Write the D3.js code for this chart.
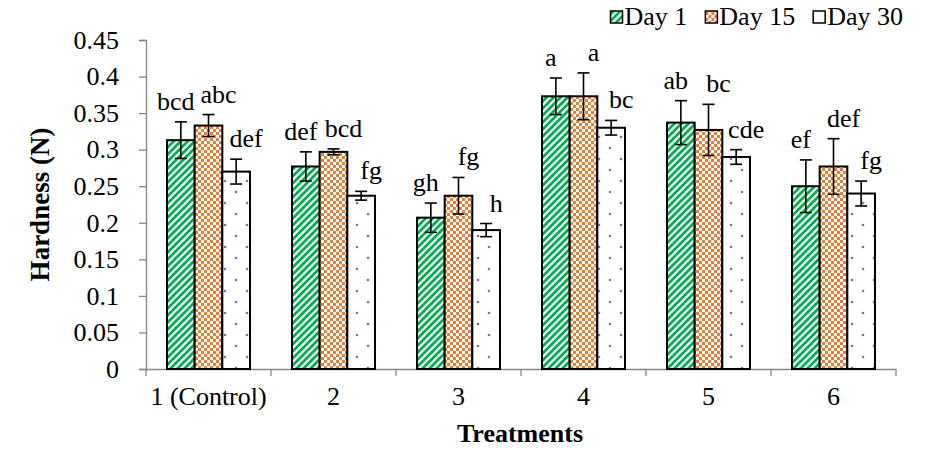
<!DOCTYPE html>
<html>
<head>
<meta charset="utf-8">
<script src="https://cdn.jsdelivr.net/npm/d3@7"></script>
<style>
  html, body { margin: 0; padding: 0; background: #fff; }
  svg { display: block; font-family: "Liberation Serif", "Times New Roman", serif; }
</style>
</head>
<body>
<svg id="chart" width="929" height="449"></svg>
<script>
// Chart values
const categories = ["1 (Control)", "2", "3", "4", "5", "6"];
const series = ["Day 1", "Day 15", "Day 30"];
const day1 = [0.313, 0.277, 0.207, 0.373, 0.337, 0.250];
const day15 = [0.333, 0.297, 0.237, 0.373, 0.327, 0.277];
const day30 = [0.270, 0.237, 0.190, 0.330, 0.290, 0.240];
const err1 = [0.025, 0.020, 0.020, 0.025, 0.030, 0.036];
const err15 = [0.015, 0.004, 0.025, 0.032, 0.035, 0.038];
const err30 = [0.017, 0.006, 0.009, 0.010, 0.010, 0.017];
const letters1 = ["bcd", "def", "gh", "a", "ab", "ef"];
const letters15 = ["abc", "bcd", "fg", "a", "bc", "def"];
const letters30 = ["def", "fg", "h", "bc", "cde", "fg"];
const yTicks = [0, 0.05, 0.1, 0.15, 0.2, 0.25, 0.3, 0.35, 0.4, 0.45];

const values = [day1, day15, day30];
const errors = [err1, err15, err30];
const letters = [letters1, letters15, letters30];
const fills = ["url(#pGreen)", "url(#pOrange)", "url(#pDots)"];
const labelShift = [-5, 10, 10];

const svg = d3.select("#chart");
const axisColor = "#868686";
const fontSize = 26;

// Patterns
const defs = svg.append("defs");

const pg = defs.append("pattern")
  .attr("id", "pGreen")
  .attr("patternUnits", "userSpaceOnUse")
  .attr("width", 7).attr("height", 7);
pg.append("rect").attr("width", 7).attr("height", 7).attr("fill", "#fff");
pg.append("path")
  .attr("d", "M-1,8 L8,-1 M-2,2 L2,-2 M5,9 L9,5")
  .attr("stroke", "#00b050")
  .attr("stroke-width", 2.8);

const po = defs.append("pattern")
  .attr("id", "pOrange")
  .attr("patternUnits", "userSpaceOnUse")
  .attr("width", 6).attr("height", 6);
po.append("rect").attr("width", 6).attr("height", 6).attr("fill", "#fff");
po.append("rect").attr("width", 3).attr("height", 3).attr("fill", "#ed7d31");
po.append("rect").attr("x", 3).attr("y", 3).attr("width", 3).attr("height", 3).attr("fill", "#ed7d31");

const pd = defs.append("pattern")
  .attr("id", "pDots")
  .attr("patternUnits", "userSpaceOnUse")
  .attr("width", 22).attr("height", 22);
pd.append("rect").attr("width", 22).attr("height", 22).attr("fill", "#fff");
pd.append("circle").attr("cx", 5).attr("cy", 5).attr("r", 1.3).attr("fill", "#8070b4");
pd.append("circle").attr("cx", 16).attr("cy", 16).attr("r", 1.3).attr("fill", "#8070b4");

// Scales
const x = d3.scaleBand()
  .domain(categories)
  .range([146, 896]);

const xSub = d3.scaleBand()
  .domain(series)
  .range([0, x.bandwidth()])
  .paddingOuter(0.76);

const y = d3.scaleLinear()
  .domain([0, 0.45])
  .range([369, 40]);

// Y axis
const yAxis = svg.append("g")
  .attr("transform", "translate(146,0)")
  .call(d3.axisLeft(y).tickValues(yTicks).tickSize(7).tickPadding(20)
    .tickFormat(d => String(+d.toFixed(2))));
yAxis.select(".domain").attr("stroke", axisColor).attr("stroke-width", 1.3);
yAxis.selectAll(".tick line").attr("stroke", axisColor).attr("stroke-width", 1.3);
yAxis.selectAll(".tick text")
  .attr("font-family", "Liberation Serif")
  .attr("font-size", fontSize)
  .attr("fill", "#000");

// X axis
const xAxis = svg.append("g")
  .attr("transform", `translate(0,${y(0)})`)
  .call(d3.axisBottom(x).tickSize(0).tickPadding(18));
xAxis.select(".domain").attr("stroke", axisColor).attr("stroke-width", 1.3);
xAxis.selectAll(".tick text")
  .attr("font-family", "Liberation Serif")
  .attr("font-size", fontSize)
  .attr("fill", "#000");
// category boundary ticks
const bounds = categories.map(c => x(c)).concat([x(categories[categories.length - 1]) + x.bandwidth()]);
xAxis.selectAll(".bound")
  .data(bounds)
  .enter()
  .append("line")
  .attr("class", "bound")
  .attr("x1", d => d).attr("x2", d => d)
  .attr("y1", 0).attr("y2", 7)
  .attr("stroke", axisColor)
  .attr("stroke-width", 1.3);

// Bars
const plot = svg.append("g");
series.forEach((s, si) => {
  const g = plot.append("g");
  g.selectAll("rect")
    .data(categories)
    .enter()
    .append("rect")
    .attr("x", (c) => x(c) + xSub(s))
    .attr("y", (c, i) => y(values[si][i]))
    .attr("width", xSub.bandwidth())
    .attr("height", (c, i) => y(0) - y(values[si][i]))
    .attr("fill", fills[si])
    .attr("stroke", "#000")
    .attr("stroke-width", 2);
});

// Error bars and letters
series.forEach((s, si) => {
  const g = plot.append("g");
  categories.forEach((c, i) => {
    const cx = x(c) + xSub(s) + xSub.bandwidth() / 2;
    const v = values[si][i], e = errors[si][i];
    const top = y(v + e), bot = y(v - e);
    g.append("line")
      .attr("x1", cx).attr("x2", cx).attr("y1", top).attr("y2", bot)
      .attr("stroke", "#000").attr("stroke-width", 1.6);
    [top, bot].forEach(yy => {
      g.append("line")
        .attr("x1", cx - 6).attr("x2", cx + 6).attr("y1", yy).attr("y2", yy)
        .attr("stroke", "#000").attr("stroke-width", 1.6);
    });
    g.append("text")
      .attr("x", cx + labelShift[si])
      .attr("y", top - 12)
      .attr("text-anchor", "middle")
      .attr("font-size", fontSize)
      .attr("fill", "#000")
      .text(letters[si][i]);
  });
});

// Axis titles
svg.append("text")
  .attr("transform", `translate(49,${(y(0) + y(0.45)) / 2}) rotate(-90)`)
  .attr("text-anchor", "middle")
  .attr("font-size", 27)
  .attr("font-weight", "bold")
  .text("Hardness (N)");

svg.append("text")
  .attr("x", 520)
  .attr("y", 442)
  .attr("text-anchor", "middle")
  .attr("font-size", 26)
  .attr("font-weight", "bold")
  .text("Treatments");

// Legend, right-aligned at x = 903
const legend = svg.append("g");
const items = series.map((s, si) => {
  const lg = legend.append("g");
  lg.append("rect")
    .attr("x", 0).attr("y", 11)
    .attr("width", 12).attr("height", 12)
    .attr("fill", fills[si])
    .attr("stroke", "#000")
    .attr("stroke-width", 1.5);
  const t = lg.append("text")
    .attr("x", 14)
    .attr("y", 25)
    .attr("font-size", fontSize)
    .attr("fill", "#000")
    .text(s);
  return { g: lg, w: 14 + t.node().getComputedTextLength() };
});
const gap = 18;
let lx = 903 - d3.sum(items, d => d.w) - gap * (items.length - 1);
items.forEach(d => {
  d.g.attr("transform", `translate(${lx},0)`);
  lx += d.w + gap;
});
</script>
</body>
</html>
